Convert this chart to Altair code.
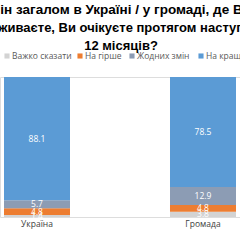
import altair as alt
import pandas as pd

regions = ["Україна", "Громада"]
categories = ["Важко сказати", "На гірше", "Жодних змін", "На краще"]
colors = ["#D3D3D3", "#ED7D31", "#8C9CB4", "#5B9BD5"]
values = {
    "Україна": [1.4, 4.8, 5.7, 88.1],
    "Громада": [3.8, 4.8, 12.9, 78.5],
}
title_lines = [
    "Яких змін загалом в Україні / у громаді, де Ви",
    "проживаєте, Ви очікуєте протягом наступних",
    "12 місяців?",
]

rows = []
for r in regions:
    for i, c in enumerate(categories):
        rows.append({"region": r, "category": c, "order": i, "value": values[r][i]})
df = pd.DataFrame(rows)

base = alt.Chart(df).transform_stack(
    stack="value", groupby=["region"], as_=["y0", "y1"],
    sort=[alt.SortField("order", order="ascending")]
).transform_calculate(mid="(datum.y0 + datum.y1) / 2")

xenc = alt.X("region:N", sort=regions, title=None,
             scale=alt.Scale(domain=regions, range=[4, 236], paddingInner=0.6024, paddingOuter=0),
             axis=alt.Axis(domain=False, ticks=False, labelAngle=0, labelFontSize=8.5,
                           labelColor="#404040", labelPadding=2, labelFont="Open Sans"))
yscale = alt.Scale(domain=[0, 100])

bars = base.mark_bar().encode(
    x=xenc,
    y=alt.Y("y0:Q", scale=yscale, axis=None, stack=None),
    y2="y1:Q",
    color=alt.Color("category:N", sort=categories,
                    scale=alt.Scale(domain=categories, range=colors), legend=None),
)

labels = base.mark_text(color="white", fontSize=8.5, font="Open Sans").encode(
    x=alt.X("region:N", sort=regions),
    y=alt.Y("mid:Q", scale=yscale, stack=None),
    text=alt.Text("value:Q", format=".1f"),
)

one = pd.DataFrame({"k": [0]})

# legend drawn as marks (layout positions only)
legend_x = [7, 80, 132, 201]
legend_y = -21
legend_layers = []
for cat, col, lx in zip(categories, colors, legend_x):
    legend_layers.append(
        alt.Chart(one).mark_square(size=26, opacity=1).encode(
            x=alt.value(lx), y=alt.value(legend_y), color=alt.value(col)))
    legend_layers.append(
        alt.Chart(one).mark_text(text=cat, fontSize=8.5, font="Open Sans", align="left",
                                 baseline="middle", color="#595959").encode(
            x=alt.value(lx + 5), y=alt.value(legend_y)))

title_specs = [(title_lines[0], "right", 251, -63, 13.5),
               (title_lines[1], "center", 121, -45, 13),
               (title_lines[2], "center", 121, -27, 13)]
titles = [
    alt.Chart(one).mark_text(text=t, fontSize=fs, fontWeight="bold", font="Liberation Sans",
                             align=a, baseline="alphabetic", color="#000000").encode(
        x=alt.value(xv), y=alt.value(yv))
    for t, a, xv, yv, fs in title_specs
]

chart = alt.layer(bars, labels, *legend_layers, *titles).properties(
    width=240, height=140,
    autosize=alt.AutoSizeParams(type="none"),
    padding={"left": 0, "right": 0, "top": 77, "bottom": 23},
).configure_view(stroke=None).configure(background="white")

chart.save("out.html", embed_options={"renderer": "svg", "actions": False})
